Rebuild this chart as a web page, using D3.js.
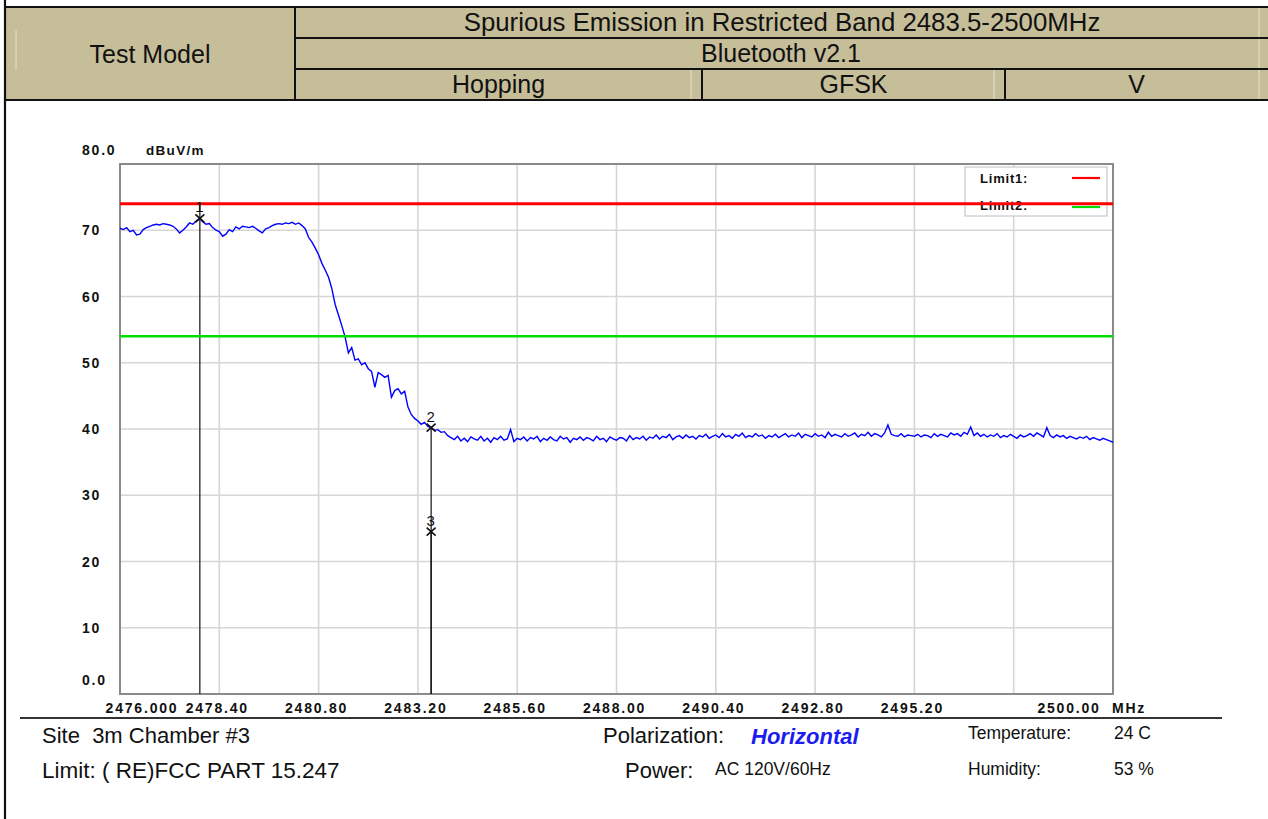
<!DOCTYPE html>
<html>
<head>
<meta charset="utf-8">
<script src="https://cdn.jsdelivr.net/npm/d3@7"></script>
<style>
  html, body { margin: 0; padding: 0; background: #fff; }
  svg { display: block; }
</style>
</head>
<body>
<svg id="sheet" width="1268" height="819"></svg>
<script>
// ---- Sweep settings ----
const freqStart = 2476.0;
const freqStop = 2500.0;
const sweepStep = 0.08;   // MHz between trace points

// ---- Measured trace (dBuV/m), one value per sweep point ----
const traceLevels = [
  70.3, 70.1, 70.4, 69.8, 70.0, 69.3, 69.4, 70.1, 70.4, 70.6,
  70.8, 70.9, 70.8, 71.0, 70.9, 70.8, 70.6, 70.2, 69.6, 70.0,
  70.5, 71.1, 70.9, 71.4, 71.8, 71.3, 70.9, 71.0, 70.4, 70.0,
  69.8, 69.1, 69.4, 70.1, 69.8, 70.5, 70.2, 70.6, 70.5, 70.4,
  70.6, 70.3, 69.9, 69.6, 70.2, 70.4, 70.7, 70.9, 71.0, 70.9,
  71.1, 71.0, 71.2, 70.9, 71.1, 70.7, 70.2, 68.9, 68.2, 67.3,
  66.3, 65.0, 64.0, 62.9, 61.2, 58.8, 57.2, 55.6, 53.9, 51.5,
  52.3, 50.4, 50.6, 49.7, 50.0, 49.1, 48.7, 46.3, 48.5, 48.2,
  47.8, 48.1, 44.8, 45.8, 46.1, 45.3, 45.7, 43.3, 42.2, 41.6,
  41.2, 40.7, 41.0, 40.4, 40.2, 39.8, 39.9, 39.5, 39.6, 39.0,
  38.7, 38.4, 38.9, 38.2, 38.6, 38.1, 38.8, 38.5, 38.3, 38.9,
  38.2, 38.6, 38.0, 38.7, 38.4, 38.9, 38.3, 38.5, 39.9, 38.1,
  38.6, 38.4, 38.8, 38.2, 38.7, 38.5, 38.9, 38.1, 38.6, 38.3,
  38.8, 38.4, 38.2, 38.9, 38.5, 38.7, 38.0, 38.6, 38.4, 38.8,
  38.3, 38.7, 38.5, 38.2, 38.9, 38.4, 38.6, 38.1, 38.8, 38.5,
  38.3, 38.7, 38.6, 38.2, 39.0, 38.4, 38.7, 38.5, 38.9, 38.3,
  38.8, 38.6, 39.1, 38.5, 38.9, 38.7, 39.2, 38.4, 38.8, 39.0,
  38.6, 39.1, 38.7, 38.9, 38.5, 39.0, 38.8, 39.2, 38.6, 38.9,
  39.1, 38.7, 39.3, 38.8, 39.0, 38.6, 39.2, 38.9, 39.4, 38.7,
  39.0, 38.8, 39.3, 38.9, 39.1, 38.6, 39.0, 38.8, 39.2, 38.7,
  39.0, 39.3, 38.8, 39.1, 38.9, 39.4, 38.7, 39.2, 39.0, 38.8,
  39.3, 38.9, 39.1, 38.7, 39.5, 38.9, 39.2, 39.0, 38.8, 39.3,
  38.9, 39.1, 39.4, 38.8, 39.2, 39.0, 39.5, 38.9, 39.3, 39.1,
  38.8, 39.4, 40.6, 39.2, 39.0, 38.9, 39.3, 38.8, 39.1, 39.0,
  38.9, 39.2, 38.8, 39.1, 39.0, 38.7, 39.3, 38.9, 39.2, 39.0,
  38.8, 39.4, 39.1, 39.3, 38.9, 39.5, 39.2, 40.3, 39.0, 39.4,
  38.9, 39.2, 38.8, 39.1, 38.9, 39.3, 38.7, 39.0, 38.8, 39.2,
  38.9, 38.6, 39.1, 38.8, 39.0, 39.3, 38.9, 39.4, 39.1, 38.8,
  40.2, 39.0, 38.7, 39.1, 38.8, 39.0, 38.6, 38.9, 38.7, 38.5,
  38.8, 38.6, 38.9, 38.4, 38.7, 38.5, 38.3, 38.6, 38.4, 38.2,
  38.0
];

// ---- Limit lines ----
const limitNames = ["Limit1:", "Limit2:"];
const limitLevels = [74.0, 54.0];
const limitColors = ["#ff0000", "#00dd00"];

// ---- Markers ----
const markerIds = ["1", "2", "3"];
const markerFreqs = [2477.93, 2483.52, 2483.52];
const markerLevels = [71.8, 40.2, 24.5];

// ---- Axis ticks ----
const yTickValues = [80, 70, 60, 50, 40, 30, 20, 10, 0];
const yTickLabels = ["80.0", "70", "60", "50", "40", "30", "20", "10", "0.0"];
const xGridFreqs = [2476.0, 2478.4, 2480.8, 2483.2, 2485.6, 2488.0, 2490.4, 2492.8, 2495.2, 2497.6, 2500.0];
const xTickFreqs = [2476.0, 2478.4, 2480.8, 2483.2, 2485.6, 2488.0, 2490.4, 2492.8, 2495.2, 2500.0];
const xTickLabels = ["2476.000", "2478.40", "2480.80", "2483.20", "2485.60", "2488.00", "2490.40", "2492.80", "2495.20", "2500.00"];

// ---- Header table ----
const headerTitle = "Spurious Emission in Restricted Band 2483.5-2500MHz";
const headerStandard = "Bluetooth v2.1";
const headerModes = ["Hopping", "GFSK", "V"];
const headerRowLabel = "Test Model";

const svg = d3.select("#sheet");
const W = 1268, H = 819;

// ================= Header table =================
const tan = "#c6be99";
const tbl = svg.append("g");
const tX0 = 5, tX1 = 1270, tCol = 295, rows = [7, 38, 69, 100];
const modeCols = [295, 702, 1005, 1270];

tbl.append("rect").attr("x", tX0).attr("y", rows[0]).attr("width", tX1 - tX0).attr("height", rows[3] - rows[0]).attr("fill", tan);
// faint inner highlight lines
[[16, 30, 16, 70], [691, 69, 691, 100], [994, 69, 994, 100], [1259, 7, 1259, 100]].forEach(l => {
  tbl.append("line").attr("x1", l[0]).attr("y1", l[1]).attr("x2", l[2]).attr("y2", l[3])
    .attr("stroke", "#e6e1cf").attr("stroke-width", 1);
});
const black = "#111";
function hl(x1, x2, y, w) { tbl.append("line").attr("x1", x1).attr("x2", x2).attr("y1", y).attr("y2", y).attr("stroke", black).attr("stroke-width", w); }
function vl(x, y1, y2, w) { tbl.append("line").attr("x1", x).attr("x2", x).attr("y1", y1).attr("y2", y2).attr("stroke", black).attr("stroke-width", w); }
hl(tX0, tX1, rows[0], 2.2);
hl(tCol, tX1, rows[1], 2);
hl(tCol, tX1, rows[2], 2);
hl(tX0, tX1, rows[3], 2.2);
vl(tCol, rows[0], rows[3], 2);
vl(modeCols[1], rows[2], rows[3], 2);
vl(modeCols[2], rows[2], rows[3], 2);
// page frame line on the left
vl(5, 0, H, 2.2);

const hFont = "'Liberation Sans', Arial, sans-serif";
tbl.append("text").attr("x", 150).attr("y", 63).attr("text-anchor", "middle")
  .attr("font-family", hFont).attr("font-size", 25).attr("fill", "#111").text(headerRowLabel);
tbl.append("text").attr("x", 782).attr("y", 31).attr("text-anchor", "middle")
  .attr("font-family", hFont).attr("font-size", 25.8).attr("fill", "#111").text(headerTitle);
tbl.append("text").attr("x", 781).attr("y", 62).attr("text-anchor", "middle")
  .attr("font-family", hFont).attr("font-size", 25).attr("fill", "#111").text(headerStandard);
headerModes.forEach((m, i) => {
  tbl.append("text").attr("x", (modeCols[i] + Math.min(modeCols[i + 1], 1268)) / 2).attr("y", 93)
    .attr("text-anchor", "middle").attr("font-family", hFont).attr("font-size", 25).attr("fill", "#111").text(m);
});

// ================= Plot =================
const plot = { left: 120, right: 1113, top: 164, bottom: 694 };
const x = d3.scaleLinear().domain([freqStart, freqStop]).range([plot.left, plot.right]);
const y = d3.scaleLinear().domain([0, 80]).range([plot.bottom, plot.top]);

const g = svg.append("g");
const tickFont = "'Liberation Sans', Arial, sans-serif";

// grid
g.selectAll("line.vg").data(xGridFreqs.slice(1, -1)).enter().append("line")
  .attr("x1", d => x(d)).attr("x2", d => x(d)).attr("y1", plot.top).attr("y2", plot.bottom)
  .attr("stroke", "#d6d6d6").attr("stroke-width", 1.6);
g.selectAll("line.hg").data(yTickValues.slice(1, -1)).enter().append("line")
  .attr("x1", plot.left).attr("x2", plot.right).attr("y1", d => y(d)).attr("y2", d => y(d))
  .attr("stroke", "#d6d6d6").attr("stroke-width", 1.6);

// frame
g.append("rect").attr("x", plot.left).attr("y", plot.top)
  .attr("width", plot.right - plot.left).attr("height", plot.bottom - plot.top)
  .attr("fill", "none").attr("stroke", "#8a8a8a").attr("stroke-width", 2);

// y tick labels
g.selectAll("text.yl").data(yTickValues).enter().append("text")
  .attr("x", 82)
  .attr("y", (d, i) => (i === 0 || i === yTickValues.length - 1) ? y(d) - 9 : y(d) + 5)
  .attr("font-family", tickFont).attr("font-weight", "bold").attr("font-size", 14)
  .attr("letter-spacing", 1.8).attr("fill", "#111")
  .text((d, i) => yTickLabels[i]);
g.append("text").attr("x", 146).attr("y", y(80) - 9)
  .attr("font-family", tickFont).attr("font-weight", "bold").attr("font-size", 13.5)
  .attr("letter-spacing", 1.3).attr("fill", "#111").text("dBuV/m");

// x tick labels
g.selectAll("text.xl").data(xTickFreqs).enter().append("text")
  .attr("x", (d, i) => x(d) + (i === 0 ? 22 : (i === xTickFreqs.length - 1 ? -44 : -2)))
  .attr("y", 713).attr("text-anchor", "middle")
  .attr("font-family", tickFont).attr("font-weight", "bold").attr("font-size", 14)
  .attr("letter-spacing", 1.8).attr("fill", "#111")
  .text((d, i) => xTickLabels[i]);
g.append("text").attr("x", 1112).attr("y", 713)
  .attr("font-family", tickFont).attr("font-weight", "bold").attr("font-size", 14)
  .attr("letter-spacing", 1.8).attr("fill", "#111").text("MHz");

// legend box
const lg = g.append("g");
lg.append("rect").attr("x", 965).attr("y", 167).attr("width", 142).attr("height", 49)
  .attr("fill", "#fff").attr("stroke", "#c8c8c8").attr("stroke-width", 1.2);
limitNames.forEach((n, i) => {
  const ty = 183 + i * 27;
  lg.append("text").attr("x", 980).attr("y", ty)
    .attr("font-family", tickFont).attr("font-weight", "bold").attr("font-size", 13)
    .attr("letter-spacing", 0.8).attr("fill", "#111").text(n);
  lg.append("line").attr("x1", 1072).attr("x2", 1100)
    .attr("y1", ty - 5 + i * 2).attr("y2", ty - 5 + i * 2)
    .attr("stroke", limitColors[i]).attr("stroke-width", 2.2);
});

// marker lines (behind the trace)
markerFreqs.forEach((f, i) => {
  g.append("line").attr("x1", x(f)).attr("x2", x(f))
    .attr("y1", y(markerLevels[i]) - (i === 0 ? 14 : 0)).attr("y2", plot.bottom)
    .attr("stroke", "#111").attr("stroke-width", 1.2);
});

// trace
const tracePts = traceLevels.map((v, i) => [freqStart + i * sweepStep, v]);
g.append("path").datum(tracePts)
  .attr("d", d3.line().x(d => x(d[0])).y(d => y(d[1])))
  .attr("fill", "none").attr("stroke", "#0000ff").attr("stroke-width", 1.4)
  .attr("stroke-linejoin", "miter");

// limit lines (drawn on top)
limitLevels.forEach((v, i) => {
  g.append("line").attr("x1", plot.left).attr("x2", plot.right).attr("y1", y(v)).attr("y2", y(v))
    .attr("stroke", limitColors[i]).attr("stroke-width", i === 0 ? 3 : 2.5);
});

// markers: "x" glyph with index above
markerFreqs.forEach((f, i) => {
  const mx = x(f), my = y(markerLevels[i]);
  g.append("path").attr("d", `M${mx - 4.5},${my - 4}L${mx + 4.5},${my + 4}M${mx + 4.5},${my - 4}L${mx - 4.5},${my + 4}`)
    .attr("stroke", "#111").attr("stroke-width", 1.6).attr("fill", "none");
  g.append("text").attr("x", mx - 0.5).attr("y", my - 6).attr("text-anchor", "middle")
    .attr("font-family", tickFont).attr("font-size", 15).attr("fill", "#111").text(markerIds[i]);
});

// ================= Footer =================
const ft = svg.append("g");
ft.append("line").attr("x1", 20).attr("x2", 1222).attr("y1", 718).attr("y2", 718)
  .attr("stroke", "#333").attr("stroke-width", 2);
function ftxt(tx, ty, s, size, opts) {
  const t = ft.append("text").attr("x", tx).attr("y", ty).attr("font-family", hFont)
    .attr("font-size", size).attr("fill", "#111").text(s);
  if (opts) Object.keys(opts).forEach(k => t.attr(k, opts[k]));
  return t;
}
ftxt(42, 743, "Site  3m Chamber #3", 22).attr("xml:space", "preserve").style("white-space", "pre");
ftxt(42, 778, "Limit: ( RE)FCC PART 15.247", 22.5);
ftxt(603, 743, "Polarization:", 22);
ftxt(751, 744, "Horizontal", 22, { "font-weight": "bold", "font-style": "italic", "fill": "#1c1cf0" });
ftxt(625, 778, "Power:", 22);
ftxt(715, 775, "AC 120V/60Hz", 17.5);
ftxt(968, 739, "Temperature:", 17.5);
ftxt(1114, 739, "24 C", 17.5);
ftxt(968, 775, "Humidity:", 17.5);
ftxt(1114, 775, "53 %", 17.5);
</script>
</body>
</html>
